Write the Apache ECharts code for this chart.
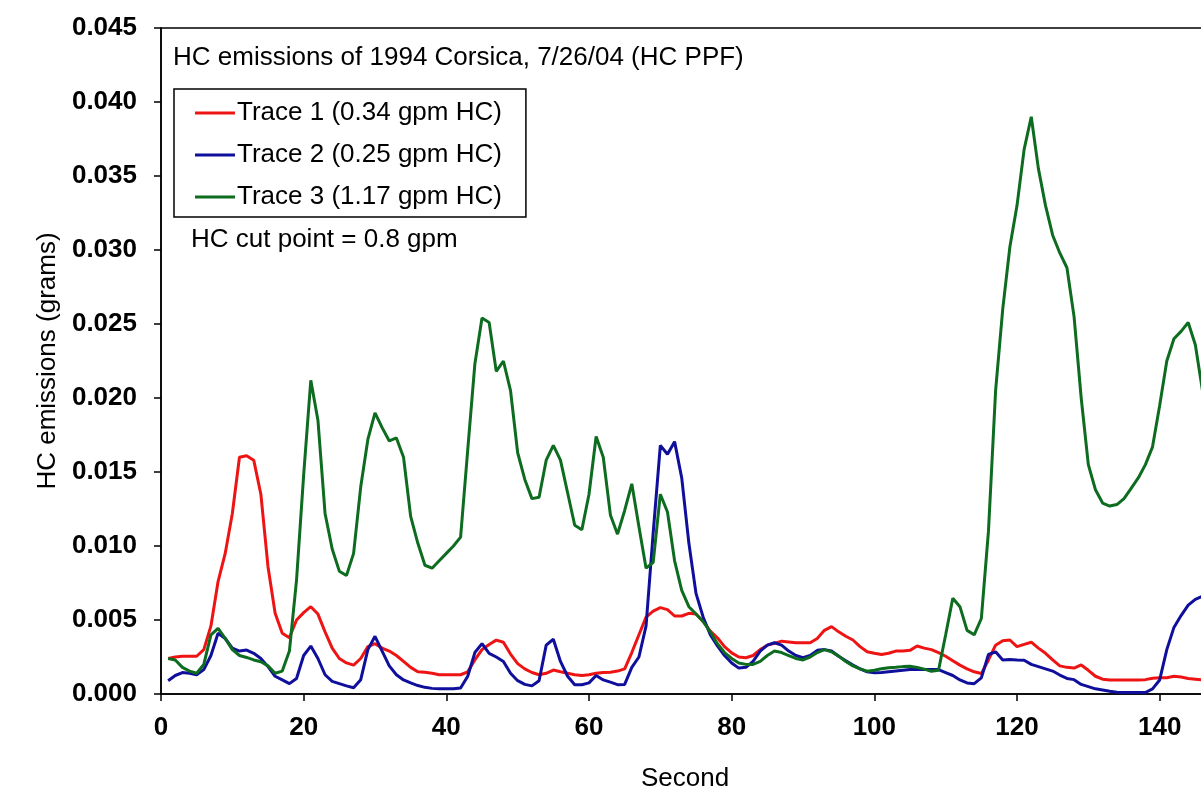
<!DOCTYPE html>
<html><head><meta charset="utf-8">
<script src="https://cdn.jsdelivr.net/npm/echarts@6/dist/echarts.min.js"></script>
<style>html,body{margin:0;padding:0;background:#fff}#c{width:1201px;height:791px}</style>
</head><body><div id="c"></div>
<script>
// seconds start at 1, one reading per second
const firstSecond = 1;
const seriesNames = ['Trace 1 (0.34 gpm HC)', 'Trace 2 (0.25 gpm HC)', 'Trace 3 (1.17 gpm HC)'];
const yTicks = [0, 0.005, 0.010, 0.015, 0.020, 0.025, 0.030, 0.035, 0.040, 0.045];
const xTicks = [0, 20, 40, 60, 80, 100, 120, 140];
const chartTitle = 'HC emissions of 1994 Corsica, 7/26/04 (HC PPF)';
const cutPointText = 'HC cut point = 0.8 gpm';

const trace1 = [
0.0024,0.0025,0.00255,0.00255,0.00255,0.0030,0.0046,0.0076,0.0095,0.0122,
0.0160,0.0161,0.0158,0.0135,0.0086,0.00545,0.0041,0.0038,0.0050,0.0055,
0.0059,0.0054,0.0042,0.0031,0.0024,0.0021,0.00195,0.0024,0.0032,0.0034,
0.0031,0.0029,0.0026,0.0022,0.0018,0.0015,0.00147,0.0014,0.0013,0.0013,
0.0013,0.0013,0.0015,0.0023,0.0030,0.00335,0.00364,0.0035,0.0027,0.00205,
0.0017,0.00145,0.0013,0.0014,0.00162,0.0015,0.0014,0.0013,0.00125,0.0013,
0.0014,0.00145,0.00147,0.00155,0.0017,0.0028,0.0040,0.0052,0.0056,0.00584,
0.0057,0.00527,0.00527,0.00545,0.0054,0.0049,0.00425,0.0038,0.0032,0.00278,
0.0025,0.00245,0.0026,0.0030,0.0033,0.00342,0.00357,0.00352,0.00347,0.00346,
0.00346,0.00375,0.0043,0.00455,0.0042,0.0039,0.00365,0.0032,0.00285,0.00275,
0.00267,0.00275,0.0029,0.0029,0.00295,0.00324,0.0031,0.0030,0.0028,0.00255,
0.00225,0.00195,0.0017,0.0015,0.00138,0.0023,0.0033,0.0036,0.00365,0.0032,
0.00335,0.0035,0.0031,0.00275,0.0023,0.0019,0.0018,0.00175,0.00196,0.0016,
0.0012,0.0010,0.00095,0.00095,0.00095,0.00095,0.00095,0.00097,0.00106,0.0011,
0.0011,0.0012,0.00115,0.00105,0.0010,0.00095
];
const trace2 = [
0.0009,0.00125,0.00145,0.0014,0.0013,0.00165,0.0026,0.0041,0.00375,0.0031,
0.0029,0.00297,0.00275,0.0024,0.00185,0.0012,0.00095,0.0007,0.00105,0.0026,
0.00324,0.0024,0.0013,0.00085,0.0007,0.00055,0.00042,0.00097,0.0030,0.0039,
0.0029,0.0019,0.0013,0.00095,0.00075,0.00057,0.00045,0.00038,0.00036,0.00035,
0.00036,0.0004,0.0012,0.0028,0.0034,0.00275,0.0025,0.0022,0.0014,0.0009,
0.00065,0.00055,0.0009,0.0033,0.0037,0.0022,0.0012,0.00063,0.00063,0.00075,
0.00125,0.00095,0.0008,0.00063,0.00065,0.0018,0.0025,0.0046,0.0109,0.0168,
0.0162,0.01705,0.0146,0.0102,0.0068,0.0052,0.0040,0.00325,0.0026,0.0021,
0.00175,0.0018,0.0022,0.0029,0.0033,0.00346,0.0033,0.0029,0.0026,0.00245,
0.0026,0.00295,0.0030,0.0029,0.00255,0.00225,0.00195,0.0017,0.0015,0.00143,
0.00145,0.0015,0.00155,0.0016,0.00165,0.00165,0.00165,0.00165,0.00165,0.00145,
0.00125,0.00095,0.00075,0.0007,0.00109,0.00267,0.00285,0.0023,0.00233,0.0023,
0.00228,0.0020,0.00185,0.0017,0.00155,0.00128,0.00105,0.00097,0.00065,0.0005,
0.00035,0.00027,0.00018,0.00012,0.0001,0.0001,0.0001,0.0001,0.00035,0.00095,
0.0030,0.0045,0.0053,0.0060,0.0064,0.0066
];
const trace3 = [
0.0024,0.0023,0.0018,0.00155,0.0014,0.0020,0.0040,0.00444,0.00376,0.0030,
0.0026,0.00247,0.0023,0.00218,0.0019,0.0014,0.00155,0.0029,0.0077,0.0148,
0.0212,0.0185,0.0122,0.0098,0.0083,0.0080,0.0095,0.0140,0.0172,0.0190,
0.0180,0.0171,0.0173,0.0160,0.0120,0.0102,0.0087,0.0085,0.0090,0.0095,
0.0100,0.0106,0.0165,0.0223,0.0254,0.0251,0.0218,0.0225,0.0205,0.0163,
0.0145,0.0132,0.0133,0.0158,0.0168,0.0158,0.0136,0.0114,0.0111,0.0135,
0.0174,0.0160,0.0121,0.0108,0.0124,0.0142,0.0113,0.0085,0.0089,0.0135,
0.0123,0.0090,0.0070,0.0059,0.0054,0.0049,0.0042,0.0034,0.0028,0.0024,
0.0021,0.0020,0.0020,0.0022,0.0026,0.0029,0.0028,0.0026,0.0024,0.0023,
0.0025,0.0028,0.0030,0.00285,0.00256,0.0022,0.0019,0.0017,0.00154,0.0016,
0.0017,0.00178,0.0018,0.00185,0.00188,0.0018,0.00168,0.00154,0.0016,0.0040,
0.00647,0.0059,0.0043,0.0040,0.0051,0.0110,0.0205,0.0260,0.0302,0.0330,
0.0368,0.0390,0.0355,0.0330,0.0310,0.0298,0.0288,0.0255,0.0200,0.0155,
0.0138,0.0129,0.0127,0.0128,0.0132,0.0139,0.0146,0.0155,0.0167,0.0195,
0.0225,0.0240,0.0245,0.0251,0.0236,0.0205
];

const colors = ['#ee1414', '#0f0f9c', '#0d6c1f'];
const FONT = '"Liberation Sans", Arial, sans-serif';

function pairs(arr) { return arr.map((v, i) => [firstSecond + i, v]); }

const chart = echarts.init(document.getElementById('c'), null, {renderer: 'canvas'});
chart.setOption({
  animation: false,
  backgroundColor: '#ffffff',
  title: [
    {text: chartTitle, left: 173, top: 45, padding: 0,
     textStyle: {fontFamily: FONT, fontSize: 26, fontWeight: 'normal', color: '#000'}},
    {text: cutPointText, left: 191, top: 227, padding: 0,
     textStyle: {fontFamily: FONT, fontSize: 26, fontWeight: 'normal', color: '#000'}}
  ],
  legend: {
    orient: 'vertical', left: 174, top: 89,
    padding: [11, 24, 7, 21],
    itemGap: 16, itemWidth: 40, itemHeight: 3, icon: 'rect',
    borderColor: '#000', borderWidth: 1.5, backgroundColor: '#fff',
    textStyle: {fontFamily: FONT, fontSize: 26, color: '#000', padding: [0, 0, 0, -3]},
    data: seriesNames
  },
  grid: {left: 161, top: 28, width: 1070, height: 666, show: true, borderColor: '#000', borderWidth: 1.5,
         containLabel: false, outerBoundsMode: 'none'},
  xAxis: {
    type: 'value', min: 0, max: 150, interval: 20,
    name: 'Second', nameLocation: 'middle', nameGap: 72,
    nameTextStyle: {fontFamily: FONT, fontSize: 26, color: '#000', padding: [0, 22, 0, 0]},
    axisLine: {show: true, lineStyle: {color: '#000', width: 1.5}},
    axisTick: {show: true, inside: false, length: 7, lineStyle: {color: '#000', width: 1.5}},
    axisLabel: {fontFamily: FONT, fontSize: 26, fontWeight: 'bold', color: '#000', margin: 21,
      formatter: v => (xTicks.indexOf(v) >= 0 ? String(v) : '')},
    splitLine: {show: false}
  },
  yAxis: {
    type: 'value', min: 0, max: 0.045, interval: 0.005,
    name: 'HC emissions (grams)', nameLocation: 'middle', nameGap: 100,
    nameTextStyle: {fontFamily: FONT, fontSize: 26, color: '#000'},
    axisLine: {show: true, lineStyle: {color: '#000', width: 1.5}},
    axisTick: {show: true, inside: false, length: 7, lineStyle: {color: '#000', width: 1.5}},
    axisLabel: {fontFamily: FONT, fontSize: 26, fontWeight: 'bold', color: '#000', margin: 24,
      formatter: v => {
        const t = yTicks.find(k => Math.abs(k - v) < 1e-9);
        return t === undefined ? '' : t.toFixed(3);
      }},
    splitLine: {show: false}
  },
  series: [trace1, trace2, trace3].map((arr, i) => ({
    name: seriesNames[i], type: 'line', data: pairs(arr),
    showSymbol: false, symbol: 'none', clip: true,
    lineStyle: {color: colors[i], width: 3},
    itemStyle: {color: colors[i]}
  }))
});
</script></body></html>
